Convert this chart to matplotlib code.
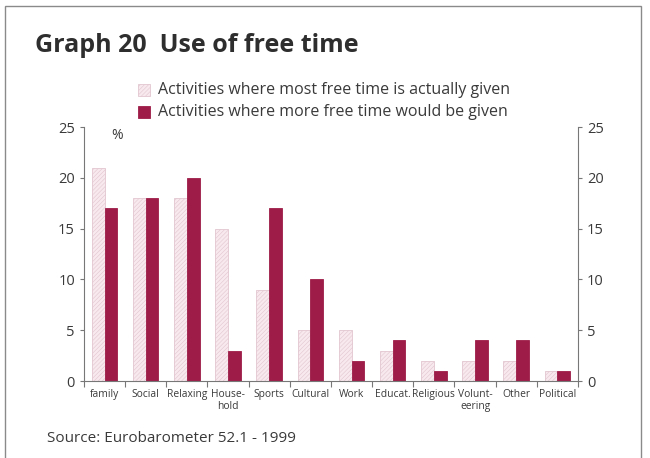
import numpy as np
import matplotlib.pyplot as plt
from matplotlib.patches import Rectangle

# Datos
categorias = ['family', 'Social', 'Relaxing', 'House-\nhold', 'Sports', 'Cultural',
              'Work', 'Educat.', 'Religious', 'Volunt-\neering', 'Other', 'Political']
tiempo_actual = [21, 18, 18, 15, 9, 5, 5, 3, 2, 2, 2, 1]
tiempo_deseado = [17, 18, 20, 3, 17, 10, 2, 4, 1, 4, 4, 1]
yticks = [0, 5, 10, 15, 20, 25]

plt.rcParams['font.family'] = ['Open Sans', 'DejaVu Sans']
plt.rcParams['hatch.linewidth'] = 0.4
texto = '#3a3a3a'
claro = '#f8e9ee'
borde_claro = '#e2c6d0'
oscuro = '#9e1c48'

fig = plt.figure(figsize=(6.5, 4.58), dpi=100)
ax = fig.add_axes([0.1292, 0.168, 0.760, 0.5546])

x = np.arange(len(categorias))
w = 0.31
ax.bar(x - w / 2, tiempo_actual, w, color=claro, edgecolor=borde_claro,
       hatch='////////', linewidth=0.6)
ax.bar(x + w / 2, tiempo_deseado, w, color=oscuro, edgecolor=oscuro, linewidth=0.6)

ax.set_xlim(-0.5, len(categorias) - 0.5)
ax.set_ylim(0, 25)
ax.set_yticks(yticks)
ax.tick_params(axis='y', labelsize=10.5, colors='#777777', labelcolor=texto,
               length=3, width=0.8)

# ticks en los límites de categoría, etiquetas en el centro
ax.set_xticks(np.arange(len(categorias) + 1) - 0.5)
ax.set_xticklabels([])
ax.set_xticks(x, minor=True)
ax.set_xticklabels(categorias, minor=True, fontsize=7.4, color=texto, linespacing=1.1)
ax.tick_params(axis='x', which='major', length=4, width=0.8, colors='#777777')
ax.tick_params(axis='x', which='minor', length=0, pad=6)

for s in ['top', 'right']:
    ax.spines[s].set_visible(False)
for s in ['left', 'bottom']:
    ax.spines[s].set_color('#777777')
    ax.spines[s].set_linewidth(0.8)

ax2 = ax.twinx()
ax2.set_ylim(0, 25)
ax2.set_yticks(yticks)
ax2.tick_params(axis='y', labelsize=10.5, colors='#777777', labelcolor=texto,
                length=3, width=0.8)
for s in ['top', 'left', 'bottom']:
    ax2.spines[s].set_visible(False)
ax2.spines['right'].set_color('#777777')
ax2.spines['right'].set_linewidth(0.8)

ax.text(0.3, 24.9, '%', fontsize=10, color=texto, ha='center', va='top')

# título, leyenda y fuente
fig.text(35 / 650, 1 - 45 / 458, 'Graph 20  Use of free time', fontsize=18,
         fontweight='bold', color='#2e2e2e', va='center')

for yy, col, ec, hh, lab in [(90, claro, borde_claro, '////////', 'Activities where most free time is actually given'),
                             (112, oscuro, oscuro, None, 'Activities where more free time would be given')]:
    fig.patches.append(Rectangle((138 / 650, 1 - (yy + 6) / 458), 12 / 650, 12 / 458,
                                 transform=fig.transFigure, facecolor=col,
                                 edgecolor=ec, hatch=hh, linewidth=0.6))
    fig.text(158 / 650, 1 - yy / 458, lab, fontsize=11.5, color=texto, va='center')

fig.text(47 / 650, 1 - 438 / 458, 'Source: Eurobarometer 52.1 - 1999', fontsize=11,
         color=texto, va='center')

# marco
fig.patches.append(Rectangle((5 / 650, -0.05), 636 / 650, 1 - 6 / 458 + 0.05,
                             transform=fig.transFigure, fill=False,
                             edgecolor='#8a8a8a', linewidth=1.0))

fig.savefig('out.png', dpi=100)
